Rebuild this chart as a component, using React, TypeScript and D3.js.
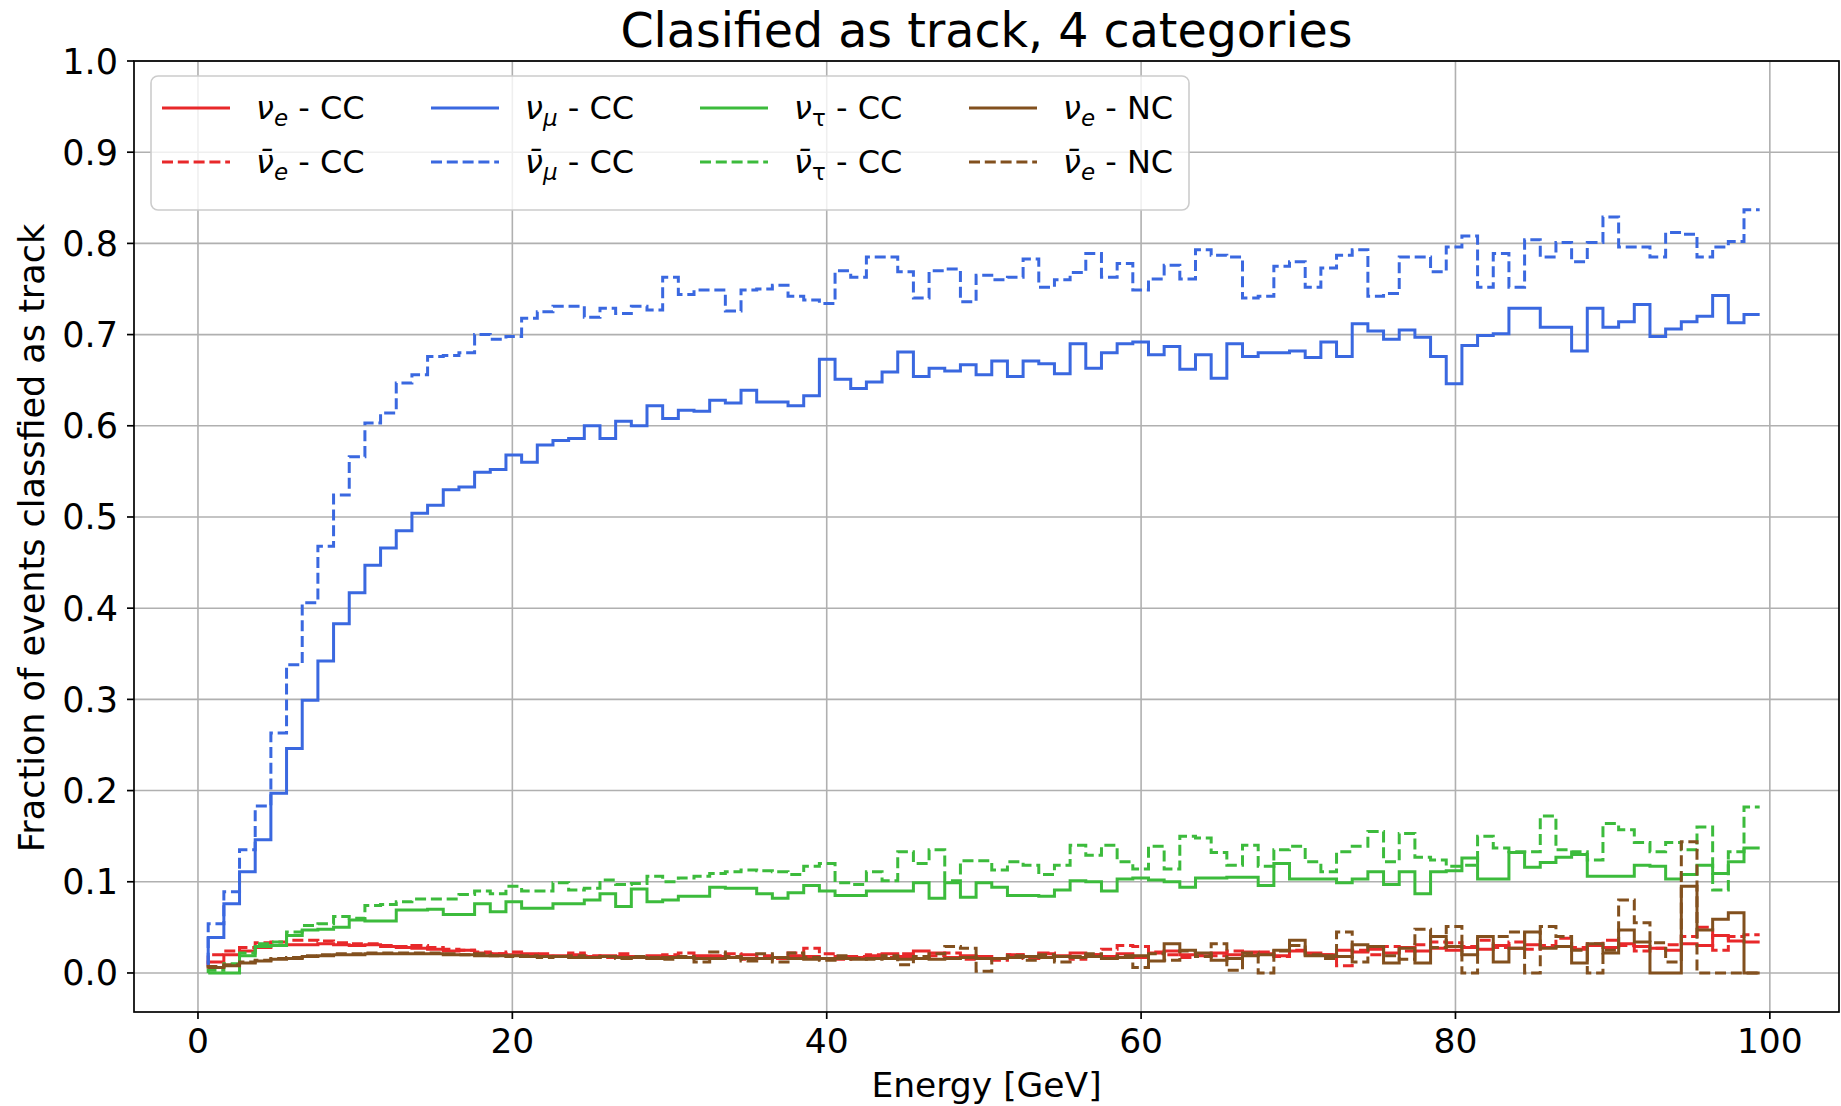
import React from "react";
import * as d3 from "d3";

// Bin grid: 100 energy bins, ~1 GeV wide
const binStart = 0.65;
const binStep = 0.997;
const energies = d3.range(100).map((i) => binStart + i * binStep);

// Fraction of events classified as track, per energy bin
const nueCC = [
  0.007, 0.012, 0.020, 0.024, 0.028, 0.030, 0.031, 0.031, 0.032, 0.031,
  0.030, 0.031, 0.029, 0.028, 0.027, 0.026, 0.024, 0.025, 0.022, 0.021,
  0.020, 0.021, 0.019, 0.019, 0.020, 0.018, 0.019, 0.018, 0.017, 0.019,
  0.018, 0.017, 0.019, 0.018, 0.017, 0.020, 0.016, 0.017, 0.019, 0.018,
  0.016, 0.018, 0.017, 0.019, 0.021, 0.018, 0.024, 0.022, 0.017, 0.019,
  0.018, 0.016, 0.020, 0.018, 0.021, 0.019, 0.022, 0.020, 0.018, 0.021,
  0.017, 0.022, 0.024, 0.020, 0.019, 0.022, 0.020, 0.023, 0.021, 0.019,
  0.024, 0.022, 0.020, 0.025, 0.023, 0.026, 0.022, 0.028, 0.024, 0.027,
  0.025, 0.028, 0.026, 0.030, 0.027, 0.031, 0.028, 0.029, 0.026, 0.030,
  0.028, 0.032, 0.029, 0.027, 0.025, 0.032, 0.030, 0.041, 0.035, 0.034,
];

const nuebarCC = [
  0.007, 0.020, 0.024, 0.028, 0.033, 0.034, 0.036, 0.036, 0.035, 0.033,
  0.032, 0.032, 0.030, 0.029, 0.030, 0.028, 0.026, 0.025, 0.023, 0.021,
  0.023, 0.019, 0.021, 0.018, 0.022, 0.019, 0.017, 0.021, 0.018, 0.016,
  0.020, 0.022, 0.016, 0.019, 0.021, 0.015, 0.019, 0.016, 0.022, 0.027,
  0.021, 0.015, 0.018, 0.020, 0.017, 0.021, 0.016, 0.019, 0.022, 0.015,
  0.018, 0.014, 0.020, 0.016, 0.022, 0.018, 0.015, 0.020, 0.026, 0.030,
  0.029, 0.023, 0.020, 0.017, 0.021, 0.019, 0.024, 0.020, 0.023, 0.018,
  0.025, 0.021, 0.020, 0.008, 0.025, 0.020, 0.029, 0.024, 0.031, 0.034,
  0.033, 0.029, 0.036, 0.028, 0.034, 0.026, 0.030, 0.038, 0.028, 0.032,
  0.036, 0.030, 0.024, 0.027, 0.031, 0.040, 0.050, 0.025, 0.040, 0.042,
];

const numuCC = [
  0.008, 0.039, 0.076, 0.111, 0.146, 0.197, 0.246, 0.299, 0.342, 0.383,
  0.417, 0.447, 0.466, 0.485, 0.504, 0.513, 0.530, 0.533, 0.549, 0.552,
  0.568, 0.560, 0.579, 0.584, 0.586, 0.600, 0.586, 0.605, 0.600, 0.622,
  0.608, 0.617, 0.616, 0.628, 0.625, 0.639, 0.626, 0.626, 0.622, 0.633,
  0.673, 0.651, 0.641, 0.648, 0.659, 0.681, 0.654, 0.663, 0.660, 0.667,
  0.656, 0.671, 0.654, 0.671, 0.668, 0.657, 0.690, 0.663, 0.680, 0.690,
  0.692, 0.678, 0.687, 0.662, 0.678, 0.652, 0.690, 0.676, 0.680, 0.680,
  0.682, 0.675, 0.692, 0.676, 0.712, 0.704, 0.695, 0.705, 0.697, 0.676,
  0.646, 0.688, 0.699, 0.701, 0.729, 0.729, 0.708, 0.708, 0.682, 0.729,
  0.708, 0.714, 0.733, 0.698, 0.706, 0.714, 0.720, 0.743, 0.713, 0.722,
];

const numubarCC = [
  0.010, 0.054, 0.089, 0.135, 0.183, 0.263, 0.338, 0.406, 0.468, 0.524,
  0.566, 0.603, 0.614, 0.647, 0.656, 0.676, 0.677, 0.680, 0.700, 0.695,
  0.698, 0.718, 0.725, 0.731, 0.731, 0.719, 0.729, 0.723, 0.731, 0.727,
  0.763, 0.744, 0.749, 0.749, 0.726, 0.749, 0.750, 0.754, 0.742, 0.738,
  0.734, 0.770, 0.763, 0.785, 0.785, 0.769, 0.740, 0.770, 0.772, 0.736,
  0.765, 0.760, 0.763, 0.783, 0.752, 0.760, 0.768, 0.789, 0.763, 0.778,
  0.749, 0.761, 0.776, 0.761, 0.793, 0.787, 0.785, 0.740, 0.742, 0.775,
  0.780, 0.752, 0.773, 0.787, 0.793, 0.742, 0.745, 0.785, 0.785, 0.769,
  0.796, 0.808, 0.752, 0.789, 0.752, 0.804, 0.785, 0.801, 0.780, 0.801,
  0.829, 0.796, 0.796, 0.785, 0.812, 0.810, 0.785, 0.796, 0.802, 0.837,
];

const nutauCC = [
  0.000, 0.000, 0.000, 0.019, 0.029, 0.030, 0.041, 0.047, 0.048, 0.050,
  0.058, 0.057, 0.057, 0.069, 0.069, 0.070, 0.064, 0.064, 0.076, 0.067,
  0.078, 0.071, 0.071, 0.076, 0.076, 0.080, 0.087, 0.073, 0.092, 0.078,
  0.080, 0.084, 0.084, 0.094, 0.093, 0.093, 0.087, 0.082, 0.088, 0.096,
  0.090, 0.085, 0.085, 0.090, 0.090, 0.090, 0.099, 0.082, 0.099, 0.083,
  0.099, 0.094, 0.085, 0.085, 0.084, 0.091, 0.101, 0.100, 0.090, 0.103,
  0.104, 0.102, 0.100, 0.094, 0.104, 0.104, 0.105, 0.105, 0.096, 0.120,
  0.103, 0.103, 0.103, 0.099, 0.103, 0.111, 0.097, 0.111, 0.087, 0.111,
  0.112, 0.126, 0.103, 0.103, 0.132, 0.116, 0.121, 0.127, 0.130, 0.106,
  0.106, 0.106, 0.118, 0.117, 0.103, 0.108, 0.118, 0.109, 0.122, 0.137,
];

const nutaubarCC = [
  0.000, 0.003, 0.010, 0.022, 0.032, 0.034, 0.045, 0.052, 0.054, 0.062,
  0.060, 0.074, 0.075, 0.078, 0.081, 0.081, 0.081, 0.086, 0.090, 0.087,
  0.095, 0.090, 0.090, 0.099, 0.091, 0.093, 0.102, 0.097, 0.098, 0.106,
  0.100, 0.104, 0.106, 0.109, 0.111, 0.113, 0.112, 0.111, 0.108, 0.117,
  0.120, 0.099, 0.097, 0.111, 0.101, 0.133, 0.120, 0.135, 0.101, 0.123,
  0.123, 0.113, 0.122, 0.118, 0.108, 0.118, 0.140, 0.129, 0.140, 0.122,
  0.114, 0.139, 0.114, 0.150, 0.148, 0.132, 0.118, 0.140, 0.117, 0.135,
  0.139, 0.122, 0.111, 0.133, 0.139, 0.155, 0.122, 0.153, 0.127, 0.124,
  0.117, 0.118, 0.150, 0.137, 0.133, 0.133, 0.172, 0.135, 0.133, 0.124,
  0.164, 0.157, 0.143, 0.133, 0.143, 0.135, 0.160, 0.091, 0.133, 0.182,
];

const nueNC = [
  0.005, 0.006, 0.008, 0.011, 0.013, 0.015, 0.016, 0.018, 0.019, 0.020,
  0.020, 0.021, 0.021, 0.021, 0.021, 0.021, 0.020, 0.020, 0.019, 0.019,
  0.019, 0.018, 0.018, 0.018, 0.017, 0.017, 0.018, 0.017, 0.017, 0.016,
  0.017, 0.017, 0.016, 0.016, 0.017, 0.016, 0.016, 0.017, 0.016, 0.015,
  0.016, 0.016, 0.015, 0.016, 0.016, 0.015, 0.016, 0.015, 0.016, 0.017,
  0.016, 0.016, 0.017, 0.018, 0.017, 0.018, 0.017, 0.018, 0.016, 0.017,
  0.019, 0.013, 0.032, 0.025, 0.022, 0.014, 0.016, 0.019, 0.020, 0.025,
  0.036, 0.019, 0.019, 0.018, 0.031, 0.029, 0.011, 0.027, 0.011, 0.040,
  0.029, 0.020, 0.040, 0.012, 0.027, 0.045, 0.027, 0.029, 0.011, 0.032,
  0.022, 0.047, 0.034, 0.000, 0.000, 0.095, 0.047, 0.059, 0.066, 0.000,
];

const nuebarNC = [
  0.005, 0.007, 0.009, 0.012, 0.014, 0.016, 0.017, 0.019, 0.020, 0.021,
  0.021, 0.022, 0.022, 0.022, 0.022, 0.022, 0.021, 0.020, 0.021, 0.019,
  0.018, 0.019, 0.017, 0.018, 0.019, 0.017, 0.018, 0.016, 0.018, 0.017,
  0.015, 0.018, 0.012, 0.023, 0.018, 0.013, 0.021, 0.012, 0.022, 0.017,
  0.014, 0.019, 0.016, 0.015, 0.019, 0.009, 0.018, 0.021, 0.029, 0.027,
  0.002, 0.016, 0.019, 0.014, 0.020, 0.012, 0.018, 0.021, 0.016, 0.019,
  0.006, 0.021, 0.014, 0.024, 0.018, 0.032, 0.003, 0.022, 0.000, 0.024,
  0.030, 0.020, 0.016, 0.045, 0.012, 0.029, 0.019, 0.015, 0.048, 0.028,
  0.051, 0.000, 0.040, 0.040, 0.045, 0.000, 0.051, 0.040, 0.025, 0.000,
  0.025, 0.080, 0.055, 0.033, 0.012, 0.144, 0.000, 0.000, 0.000, 0.000,
];

const xTicks = [0, 20, 40, 60, 80, 100];
const yTicks = [0.0, 0.1, 0.2, 0.3, 0.4, 0.5, 0.6, 0.7, 0.8, 0.9, 1.0];

const RED = "#e8282a";
const BLUE = "#3a68e0";
const GREEN = "#3cbb3c";
const BROWN = "#82501e";

type Series = {
  values: number[];
  color: string;
  dashed: boolean;
  nu: string;
  sub: string;
  bar: boolean;
  kind: string;
};

const series: Series[] = [
  { values: nueCC, color: RED, dashed: false, nu: "ν", sub: "e", bar: false, kind: "CC" },
  { values: nuebarCC, color: RED, dashed: true, nu: "ν", sub: "e", bar: true, kind: "CC" },
  { values: numuCC, color: BLUE, dashed: false, nu: "ν", sub: "μ", bar: false, kind: "CC" },
  { values: numubarCC, color: BLUE, dashed: true, nu: "ν", sub: "μ", bar: true, kind: "CC" },
  { values: nutauCC, color: GREEN, dashed: false, nu: "ν", sub: "τ", bar: false, kind: "CC" },
  { values: nutaubarCC, color: GREEN, dashed: true, nu: "ν", sub: "τ", bar: true, kind: "CC" },
  { values: nueNC, color: BROWN, dashed: false, nu: "ν", sub: "e", bar: false, kind: "NC" },
  { values: nuebarNC, color: BROWN, dashed: true, nu: "ν", sub: "e", bar: true, kind: "NC" },
];

const W = 1841;
const H = 1106;
const left = 134;
const right = 1839;
const top = 61;
const bottom = 1012;

const FONT = "'DejaVu Sans', sans-serif";
const LW = 3;
const DASH = "11,4.8";

export default function App() {
  const x = d3.scaleLinear().domain([-4.07, 104.4]).range([left, right]);
  const y = d3.scaleLinear().domain([-0.0428, 1.0]).range([bottom, top]);

  const line = d3
    .line<number>()
    .x((_, i) => x(energies[i]))
    .y((v) => y(v))
    .curve(d3.curveStepBefore);

  // Legend layout: 4 columns, 2 rows, column-major order
  const legX = 151;
  const legY = 76;
  const legW = 1038;
  const legH = 134;
  const colW = 269;
  const rowY = [108, 162];

  return (
    <svg
      width={W}
      height={H}
      style={{ position: "absolute", left: 0, top: 0, background: "#fff" }}
      fontFamily={FONT}
    >
      <defs>
        <clipPath id="plot-area">
          <rect x={left} y={top} width={right - left} height={bottom - top} />
        </clipPath>
      </defs>

      {/* grid */}
      <g stroke="#b0b0b0" strokeWidth={1.6}>
        {xTicks.map((t) => (
          <line key={"gx" + t} x1={x(t)} x2={x(t)} y1={top} y2={bottom} />
        ))}
        {yTicks.map((t) => (
          <line key={"gy" + t} x1={left} x2={right} y1={y(t)} y2={y(t)} />
        ))}
      </g>

      {/* step curves */}
      <g clipPath="url(#plot-area)" fill="none">
        {series.map((s, k) => (
          <path
            key={"s" + k}
            d={line(s.values) || ""}
            stroke={s.color}
            strokeWidth={LW}
            strokeDasharray={s.dashed ? DASH : undefined}
            strokeLinejoin="miter"
          />
        ))}
      </g>

      {/* spines */}
      <rect
        x={left}
        y={top}
        width={right - left}
        height={bottom - top}
        fill="none"
        stroke="#000"
        strokeWidth={1.7}
      />

      {/* x ticks */}
      <g>
        {xTicks.map((t) => (
          <g key={"xt" + t}>
            <line x1={x(t)} x2={x(t)} y1={bottom} y2={bottom + 7} stroke="#000" strokeWidth={1.7} />
            <text x={x(t)} y={1053} textAnchor="middle" fontSize={34.5} fill="#000">
              {t}
            </text>
          </g>
        ))}
      </g>

      {/* y ticks */}
      <g>
        {yTicks.map((t) => (
          <g key={"yt" + t}>
            <line x1={left - 7} x2={left} y1={y(t)} y2={y(t)} stroke="#000" strokeWidth={1.7} />
            <text x={118} y={y(t) + 12.5} textAnchor="end" fontSize={35} fill="#000">
              {t.toFixed(1)}
            </text>
          </g>
        ))}
      </g>

      {/* axis labels and title */}
      <text x={(left + right) / 2} y={1097} textAnchor="middle" fontSize={34.5} fill="#000">
        Energy [GeV]
      </text>
      <text
        transform="translate(44,538) rotate(-90)"
        textAnchor="middle"
        fontSize={35}
        fill="#000"
      >
        Fraction of events classfied as track
      </text>
      <text x={(left + right) / 2} y={47} textAnchor="middle" fontSize={47.5} fill="#000">
        Clasified as track, 4 categories
      </text>

      {/* legend */}
      <rect
        x={legX}
        y={legY}
        width={legW}
        height={legH}
        rx={7}
        fill="#fff"
        fillOpacity={0.8}
        stroke="#cccccc"
        strokeWidth={1.6}
      />
      {series.map((s, k) => {
        const col = Math.floor(k / 2);
        const row = k % 2;
        const lx = 162 + col * colW;
        const ly = rowY[row];
        return (
          <g key={"lg" + k}>
            <line
              x1={lx}
              x2={lx + 68}
              y1={ly}
              y2={ly}
              stroke={s.color}
              strokeWidth={LW}
              strokeDasharray={s.dashed ? DASH : undefined}
            />
            <text x={lx + 94} y={ly + 11} fontSize={32} fill="#000">
              <tspan fontStyle="italic">{s.bar ? s.nu + "\u0304" : s.nu}</tspan>
              <tspan fontStyle={s.sub === "τ" ? "normal" : "italic"} fontSize={23} dy={7}>
                {s.sub}
              </tspan>
              <tspan dy={-7}>{" - " + s.kind}</tspan>
            </text>
          </g>
        );
      })}
    </svg>
  );
}
